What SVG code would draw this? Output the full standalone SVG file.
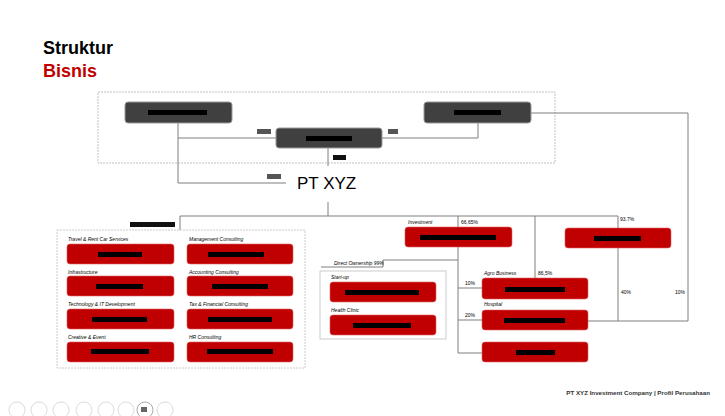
<svg xmlns="http://www.w3.org/2000/svg" width="725" height="416" viewBox="0 0 725 416">
<style>
.dk{fill:#404040;stroke:#9a9a9a;stroke-width:1}
.rd{fill:#c00000;stroke:#e06060;stroke-width:0.6}
.bar{fill:#000}
.ln{fill:none;stroke:#7f7f7f;stroke-width:1}
.lb{font-family:"Liberation Sans",Arial,sans-serif;font-size:5px;font-style:italic;fill:#000}
.pc{font-family:"Liberation Sans",Arial,sans-serif;font-size:5px;fill:#000}
.ic{fill:none;stroke:#dcdcdc;stroke-width:1}
.sl{fill:#555}
</style>
<rect width="725" height="416" fill="#fff"/>
<text x="43" y="54" font-family="Liberation Sans,Arial,sans-serif" font-size="18" font-weight="bold" fill="#000">Struktur</text>
<text x="43" y="77" font-family="Liberation Sans,Arial,sans-serif" font-size="18" font-weight="bold" fill="#c00000">Bisnis</text>
<rect x="98" y="92" width="457" height="71" fill="none" stroke="#b0b0b0" stroke-width="0.8" stroke-dasharray="2,1"/>
<g id="connectors">
<polyline class="ln" points="178,123 178,183 286,183"/>
<polyline class="ln" points="178,138 276,138"/>
<polyline class="ln" points="478,123 478,138 382,138"/>
<polyline class="ln" points="328,148 328,166"/>
<polyline class="ln" points="328,202 328,216"/>
<polyline class="ln" points="180,230 180,216 618,216 618,321"/>
<polyline class="ln" points="458,216 458,353 482,353"/>
<polyline class="ln" points="458,288 482,288"/>
<polyline class="ln" points="458,320 482,320"/>
<polyline class="ln" points="535,216 535,278"/>
<polyline class="ln" points="531,113 688,113 688,321 588,321"/>
<polyline class="ln" points="321,267 383,267 383,260 458,260"/>
</g>
<g id="pt-xyz"><text x="297" y="189" font-family="Liberation Sans,Arial,sans-serif" font-size="17" fill="#000">PT XYZ</text></g>
<g id="top-left"><rect class="dk" x="125" y="102" width="107" height="21" rx="3"/><rect class="bar" x="148" y="110" width="59" height="5"/></g>
<g id="top-right"><rect class="dk" x="424" y="102" width="107" height="21" rx="3"/><rect class="bar" x="454" y="110" width="47" height="5"/></g>
<g id="top-center"><rect class="dk" x="276" y="128" width="106" height="20" rx="3"/><rect class="bar" x="306" y="136" width="46" height="5"/></g>
<g id="small-labels">
<rect class="sl" x="257" y="129" width="14" height="5"/>
<rect class="sl" x="388" y="129" width="10" height="5"/>
<rect x="333" y="155" width="13" height="5" fill="#111"/>
<rect class="sl" x="267" y="174" width="14" height="5"/>
<rect x="130" y="222" width="45" height="5" fill="#111"/>
</g>
<rect x="57" y="230" width="248" height="138" fill="none" stroke="#bfbfbf" stroke-width="0.8" stroke-dasharray="2,1"/>
<g id="g-travel"><text class="lb" x="68" y="241">Travel &amp; Rent Car Services</text><rect class="rd" x="67" y="244" width="107" height="20" rx="3"/><rect class="bar" x="98" y="252" width="44" height="5"/></g>
<g id="g-mgmt"><text class="lb" x="189" y="241">Management Consulting</text><rect class="rd" x="187" y="244" width="106" height="20" rx="3"/><rect class="bar" x="208" y="252" width="56" height="5"/></g>
<g id="g-infra"><text class="lb" x="68" y="274">Infrastructure</text><rect class="rd" x="67" y="276" width="107" height="20" rx="3"/><rect class="bar" x="96" y="284" width="47" height="5"/></g>
<g id="g-acc"><text class="lb" x="189" y="274">Accounting Consulting</text><rect class="rd" x="187" y="276" width="106" height="20" rx="3"/><rect class="bar" x="212" y="284" width="56" height="5"/></g>
<g id="g-tech"><text class="lb" x="68" y="306">Technology &amp; IT Development</text><rect class="rd" x="67" y="309" width="107" height="20" rx="3"/><rect class="bar" x="92" y="317" width="55" height="5"/></g>
<g id="g-tax"><text class="lb" x="189" y="306">Tax &amp; Financial Consulting</text><rect class="rd" x="187" y="309" width="106" height="20" rx="3"/><rect class="bar" x="208" y="317" width="64" height="5"/></g>
<g id="g-creative"><text class="lb" x="68" y="339">Creative &amp; Event</text><rect class="rd" x="67" y="342" width="107" height="20" rx="3"/><rect class="bar" x="91" y="349" width="58" height="5"/></g>
<g id="g-hr"><text class="lb" x="189" y="339">HR Consulting</text><rect class="rd" x="187" y="342" width="106" height="20" rx="3"/><rect class="bar" x="207" y="349" width="66" height="5"/></g>
<g id="g-investment"><text class="lb" x="408" y="224">Investment</text><text class="pc" x="461" y="224">66,65%</text><rect class="rd" x="405" y="227" width="107" height="20" rx="3"/><rect class="bar" x="420" y="235" width="76" height="5"/></g>
<g id="g-937"><text class="pc" x="620" y="221">93.7%</text><rect class="rd" x="565" y="228" width="106" height="20" rx="3"/><rect class="bar" x="594" y="236" width="47" height="5"/></g>
<rect x="320" y="271" width="126" height="68" fill="none" stroke="#bfbfbf" stroke-width="0.8"/>
<text class="lb" x="334" y="265">Direct Ownership 99%</text>
<g id="g-startup"><text class="lb" x="331" y="279">Start-up</text><rect class="rd" x="330" y="282" width="106" height="20" rx="3"/><rect class="bar" x="345" y="290" width="74" height="5"/></g>
<g id="g-clinic"><text class="lb" x="331" y="312">Health Clinic</text><rect class="rd" x="330" y="315" width="106" height="20" rx="3"/><rect class="bar" x="353" y="323" width="58" height="5"/></g>
<g id="g-agro"><text class="lb" x="484" y="275">Agro Business</text><text class="pc" x="538" y="275">86,5%</text><text class="pc" x="465" y="285">10%</text><rect class="rd" x="482" y="278" width="106" height="21" rx="3"/><rect class="bar" x="505" y="287" width="60" height="5"/></g>
<g id="g-hospital"><text class="lb" x="484" y="306">Hospital</text><text class="pc" x="465" y="317">20%</text><rect class="rd" x="482" y="310" width="106" height="20" rx="3"/><rect class="bar" x="504" y="318" width="61" height="5"/></g>
<g id="g-last"><rect class="rd" x="482" y="342" width="106" height="20" rx="3"/><rect class="bar" x="516" y="350" width="39" height="5"/></g>
<text class="pc" x="621" y="294">40%</text>
<text class="pc" x="675" y="294">10%</text>
<text x="710" y="395" text-anchor="end" font-family="Liberation Sans,Arial,sans-serif" font-size="6.2" font-weight="bold" fill="#333">PT XYZ Investment Company | Profil Perusahaan</text>
<g id="toolbar">
<circle class="ic" cx="17" cy="410" r="8"/><circle class="ic" cx="39" cy="410" r="8"/><circle class="ic" cx="61" cy="410" r="8"/><circle class="ic" cx="84" cy="410" r="8"/><circle class="ic" cx="106" cy="410" r="8"/><circle class="ic" cx="126" cy="410" r="8"/><circle cx="145" cy="410" r="8" fill="none" stroke="#aaa" stroke-width="1"/><circle class="ic" cx="165" cy="410" r="8"/>
<rect x="141" y="407" width="6" height="5" fill="#666"/>
</g>
</svg>
